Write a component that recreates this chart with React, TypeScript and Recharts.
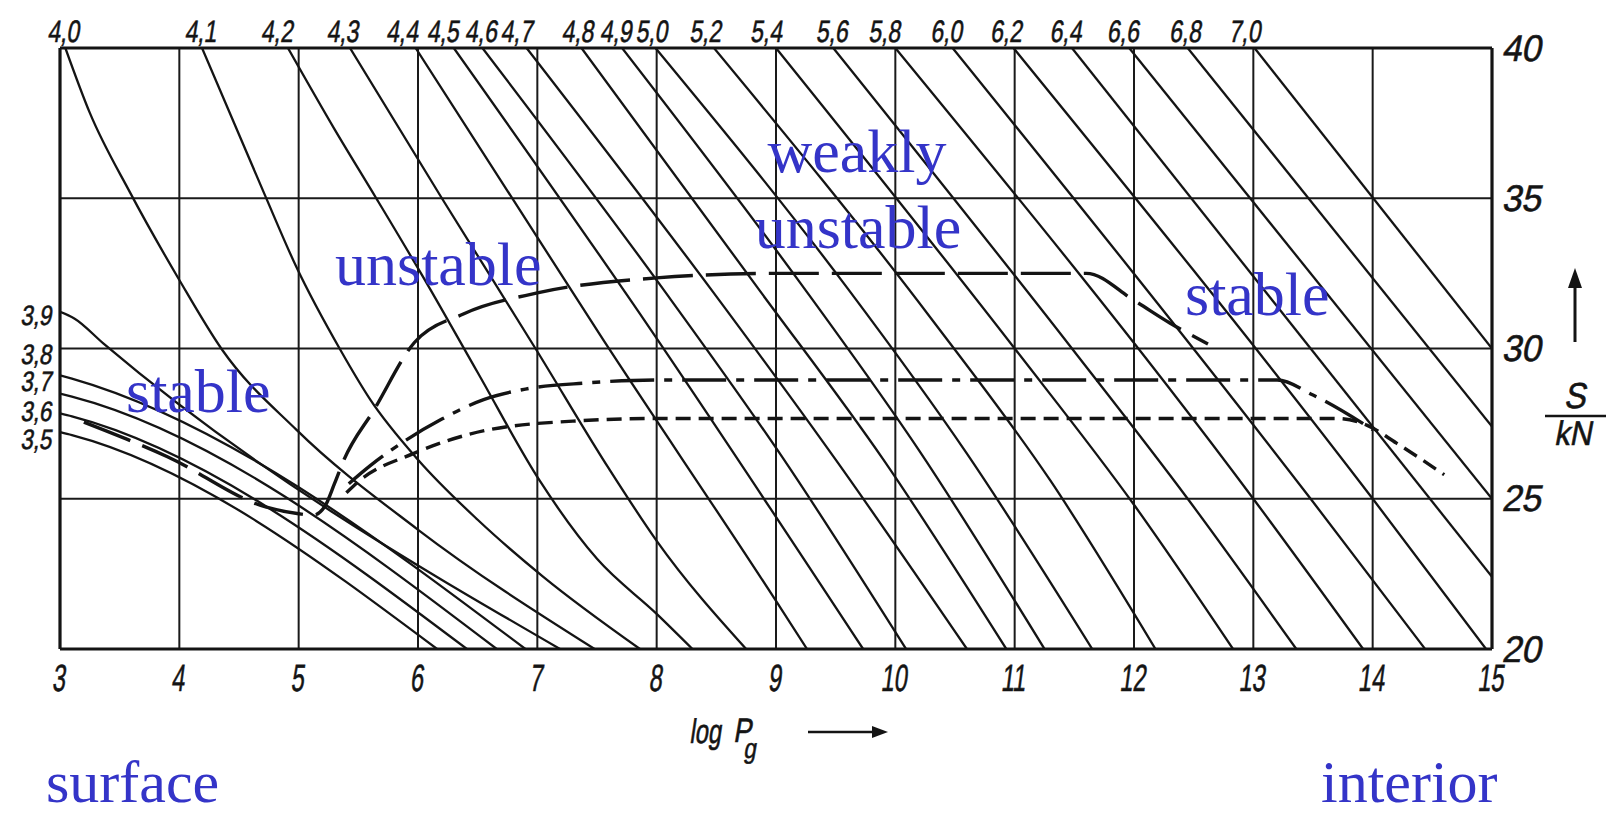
import React from "react";
import { LineChart, Line, XAxis, YAxis, CartesianGrid } from "recharts";

const W = 1614;
const H = 817;
const PLOT = { left: 60, right: 1492, top: 48, bottom: 649 };

// log Pg on the bottom, S/kN on the right
const xTicks = [3, 4, 5, 6, 7, 8, 9, 10, 11, 12, 13, 14, 15];
const sTicks = [20, 25, 30, 35, 40];

// log T labels along the top edge (where each isotherm leaves the frame)
const topLabels = [
  "4,0", "4,1", "4,2", "4,3", "4,4", "4,5", "4,6", "4,7", "4,8", "4,9", "5,0",
  "5,2", "5,4", "5,6", "5,8", "6,0", "6,2", "6,4", "6,6", "6,8", "7,0",
];
const topLabelPos = [
  3.04, 4.19, 4.83, 5.38, 5.88, 6.22, 6.54, 6.84, 7.35, 7.67, 7.97,
  8.42, 8.93, 9.48, 9.92, 10.44, 10.94, 11.44, 11.92, 12.44, 12.94,
];

// log T labels on the left edge
const leftLabels = ["3,9", "3,8", "3,7", "3,6", "3,5"];
const leftLabelPos = [31.1, 29.8, 28.9, 27.9, 27.0];

// isotherms, [log Pg, S/kN]
const logT35 = [[3.0, 27.22], [3.1, 27.12], [6.16, 20]];
const logT36 = [[3.0, 27.84], [3.1, 27.74], [6.41, 20]];
const logT37 = [[3.0, 28.5], [3.1, 28.4], [6.66, 20]];
const logT38 = [[3.0, 29.11], [3.1, 29.0], [6.9, 20]];
const logT39 = [[3.0, 31.22], [3.12, 31.0], [3.36, 30.18], [7.19, 20]];
const logT40 = [[3.045, 40], [3.25, 37.84], [3.59, 35.17], [4.0, 32.28], [4.36, 29.95], [4.98, 27.3], [5.99, 24.0], [7.48, 20]];
const logT41 = [[4.19, 40], [4.71, 35.17], [4.98, 32.72], [5.35, 29.95], [5.6, 28.3], [6.0, 26.3], [6.5, 24.3], [7.05, 22.4], [7.86, 20]];
const logT42 = [[4.91, 40], [5.3, 37.3], [5.65, 35.0], [6.04, 32.4], [6.5, 29.2], [7.02, 25.6], [7.5, 23.0], [8.0, 21.17], [8.3, 20]];
const logT43 = [[5.43, 40], [6.2, 35.0], [7.0, 29.9], [7.6, 26.0], [8.0, 23.6], [8.75, 20]];
const logT44 = [[5.98, 40], [7.55, 30.3], [9.0, 21.6], [9.26, 20]];
const logT45 = [[6.3, 40], [7.8, 31.5], [9.73, 20]];
const logT46 = [[6.54, 40], [8.05, 32.0], [9.05, 26.4], [10.09, 20]];
const logT47 = [[6.91, 40], [8.45, 32.0], [9.5, 26.3], [10.6, 20]];
const logT48 = [[7.37, 40], [8.85, 32.0], [9.9, 26.3], [10.93, 20]];
const logT49 = [[7.71, 40], [9.2, 32.2], [10.2, 26.6], [11.25, 20]];
const logT50 = [[7.99, 40], [9.6, 32.0], [10.6, 26.5], [11.65, 20]];
const logT52 = [[8.48, 40], [10.3, 31.0], [11.3, 25.6], [12.18, 20]];
const logT54 = [[9.0, 40], [11.0, 30.0], [12.0, 24.8], [12.83, 20]];
const logT56 = [[9.48, 40], [11.48, 30.0], [12.45, 25.0], [13.36, 20]];
const logT58 = [[10.0, 40], [13.0, 25.0], [13.92, 20]];
const logT60 = [[10.48, 40], [13.48, 25.0], [14.44, 20]];
const logT62 = [[10.99, 40], [14.0, 25.0], [14.95, 20]];
const logT64 = [[11.48, 40], [15.0, 22.4]];
const logT66 = [[11.96, 40], [15.0, 25.0]];
const logT68 = [[12.45, 40], [15.0, 27.4]];
const logT70 = [[13.01, 40], [15.0, 30.0]];

// stability boundaries
const boundaryLong = [
  [3.2, 27.55], [3.9, 26.4], [4.73, 24.72], [5.0, 24.5], [5.12, 24.45], [5.22, 24.75],
  [5.3, 25.5], [5.38, 26.3], [5.63, 27.95], [5.97, 30.2], [6.38, 31.15], [7.0, 31.85],
  [8.0, 32.35], [9.0, 32.5], [11.6, 32.5], [12.0, 31.6], [12.3, 30.85], [12.62, 30.15],
];
const boundaryDashDot = [
  [5.42, 25.5], [5.6, 26.1], [5.9, 26.95], [6.2, 27.65], [6.55, 28.3], [6.9, 28.65],
  [7.4, 28.85], [8.0, 28.95], [13.2, 28.95], [13.5, 28.45], [14.0, 27.3],
];
const boundaryShort = [
  [5.4, 25.2], [5.51, 25.6], [5.96, 26.5], [6.6, 27.3], [7.38, 27.6], [8.0, 27.67],
  [13.7, 27.67], [13.95, 27.45], [14.2, 26.85], [14.6, 25.8],
];

const lowIsotherms = [logT35, logT36, logT37, logT38, logT39];
const midIsotherms = [
  logT40, logT41, logT42, logT43, logT44, logT45, logT46, logT47, logT48, logT49,
  logT50, logT52, logT54, logT56, logT58, logT60, logT62,
];
const highIsotherms = [logT64, logT66, logT68, logT70];

const toPts = (arr: number[][]) => arr.map(([x, y]) => ({ x, y }));

const INK = "#141414";
const BLUE = "#3434c8";

const Condensed = ({ x, y, text, size, sx, anchor = "middle" }: any) => (
  <g transform={`translate(${x},${y})`}>
    <text
      transform={`scale(${sx},1) skewX(-12)`}
      textAnchor={anchor}
      dominantBaseline="central"
      fontFamily="'Liberation Sans', Arial, sans-serif"
      fontSize={size}
      fill={INK}
      stroke={INK}
      strokeWidth={0.6}
    >
      {text}
    </text>
  </g>
);

const TopTick = (p: any) => {
  const i = topLabelPos.indexOf(p.payload.value);
  return <Condensed x={p.x} y={31} text={topLabels[i]} size={31} sx={0.74} />;
};
const BottomTick = (p: any) => (
  <Condensed x={p.x} y={678} text={String(p.payload.value)} size={38} sx={0.62} />
);
const RightTick = (p: any) => (
  <Condensed x={PLOT.right + 12} y={p.y} text={String(p.payload.value)} size={37} sx={0.95} anchor="start" />
);
const LeftTick = (p: any) => {
  const i = leftLabelPos.indexOf(p.payload.value);
  return <Condensed x={PLOT.left - 7} y={p.y} text={leftLabels[i]} size={28} sx={0.8} anchor="end" />;
};

const frame = { stroke: INK, strokeWidth: 3.2 };

const blueText = {
  fontFamily: "'Liberation Serif', 'Times New Roman', serif",
  fontSize: 62,
  fill: BLUE,
};

export default function App() {
  const isoLine = (d: number[][], key: string, xId: string, yId: string) => (
    <Line
      key={key}
      data={toPts(d)}
      dataKey="y"
      xAxisId={xId}
      yAxisId={yId}
      type="monotone"
      stroke={INK}
      strokeWidth={2.3}
      dot={false}
      activeDot={false}
      isAnimationActive={false}
    />
  );

  return (
    <div style={{ position: "absolute", left: 0, top: 0, width: W, height: H, background: "#fff" }}>
      <LineChart width={W} height={H} margin={{ top: 8, right: 52, bottom: 118, left: 10 }}>
        <XAxis
          xAxisId="bottom"
          type="number"
          dataKey="x"
          domain={[3, 15]}
          ticks={xTicks}
          interval={0}
          height={50}
          tickLine={false}
          axisLine={frame}
          tick={BottomTick}
          allowDataOverflow
        />
        <XAxis
          xAxisId="top"
          orientation="top"
          type="number"
          dataKey="x"
          domain={[3, 15]}
          ticks={topLabelPos}
          interval={0}
          height={40}
          tickLine={false}
          axisLine={frame}
          tick={TopTick}
          allowDataOverflow
        />
        <YAxis
          yAxisId="left"
          type="number"
          domain={[20, 40]}
          ticks={leftLabelPos}
          interval={0}
          width={50}
          tickLine={false}
          axisLine={frame}
          tick={LeftTick}
          allowDataOverflow
        />
        <YAxis
          yAxisId="right"
          orientation="right"
          type="number"
          domain={[20, 40]}
          ticks={sTicks}
          interval={0}
          width={70}
          tickLine={false}
          axisLine={frame}
          tick={RightTick}
          allowDataOverflow
        />
        <CartesianGrid xAxisId="bottom" yAxisId="right" stroke="#1a1a1a" strokeWidth={2} />

        {lowIsotherms.map((d, i) => isoLine(d, "low" + i, "bottom", "left"))}
        {midIsotherms.map((d, i) => isoLine(d, "mid" + i, "bottom", "right"))}
        {highIsotherms.map((d, i) => isoLine(d, "high" + i, "top", "right"))}

        <Line
          data={toPts(boundaryLong)}
          dataKey="y"
          xAxisId="bottom"
          yAxisId="right"
          type="monotone"
          stroke={INK}
          strokeWidth={3.4}
          strokeDasharray="50 13"
          dot={false}
          activeDot={false}
          isAnimationActive={false}
        />
        <Line
          data={toPts(boundaryDashDot)}
          dataKey="y"
          xAxisId="bottom"
          yAxisId="right"
          type="monotone"
          stroke={INK}
          strokeWidth={3.4}
          strokeDasharray="44 10 8 10"
          dot={false}
          activeDot={false}
          isAnimationActive={false}
        />
        <Line
          data={toPts(boundaryShort)}
          dataKey="y"
          xAxisId="bottom"
          yAxisId="right"
          type="monotone"
          stroke={INK}
          strokeWidth={3.4}
          strokeDasharray="15 8"
          dot={false}
          activeDot={false}
          isAnimationActive={false}
        />
      </LineChart>

      <svg
        width={W}
        height={H}
        style={{ position: "absolute", left: 0, top: 0, pointerEvents: "none" }}
      >
        {/* region labels */}
        <text x={126} y={412} {...blueText}>stable</text>
        <text x={335} y={285} {...blueText}>unstable</text>
        <text x={857} y={172} textAnchor="middle" {...blueText}>weakly</text>
        <text x={858} y={248} textAnchor="middle" {...blueText}>unstable</text>
        <text x={1185} y={315} {...blueText}>stable</text>
        <text x={46} y={802} {...blueText} fontSize={60}>surface</text>
        <text x={1321} y={802} {...blueText} fontSize={60}>interior</text>

        {/* S/kN axis title */}
        <line x1={1575} y1={342} x2={1575} y2={284} stroke={INK} strokeWidth={3} />
        <polygon points="1568,288 1582,288 1575,268" fill={INK} />
        <Condensed x={1577} y={396} text="S" size={36} sx={0.9} />
        <line x1={1545} y1={416} x2={1606} y2={416} stroke={INK} strokeWidth={2.5} />
        <Condensed x={1575} y={433} text="kN" size={34} sx={0.9} />

        {/* log Pg axis title */}
        <Condensed x={691} y={731} text="log" size={34} sx={0.7} anchor="start" />
        <Condensed x={735} y={731} text="P" size={34} sx={0.8} anchor="start" />
        <Condensed x={745} y={748} text="g" size={28} sx={0.8} anchor="start" />
        <line x1={808} y1={732} x2={874} y2={732} stroke={INK} strokeWidth={2.5} />
        <polygon points="872,726 872,738 888,732" fill={INK} />
      </svg>
    </div>
  );
}
